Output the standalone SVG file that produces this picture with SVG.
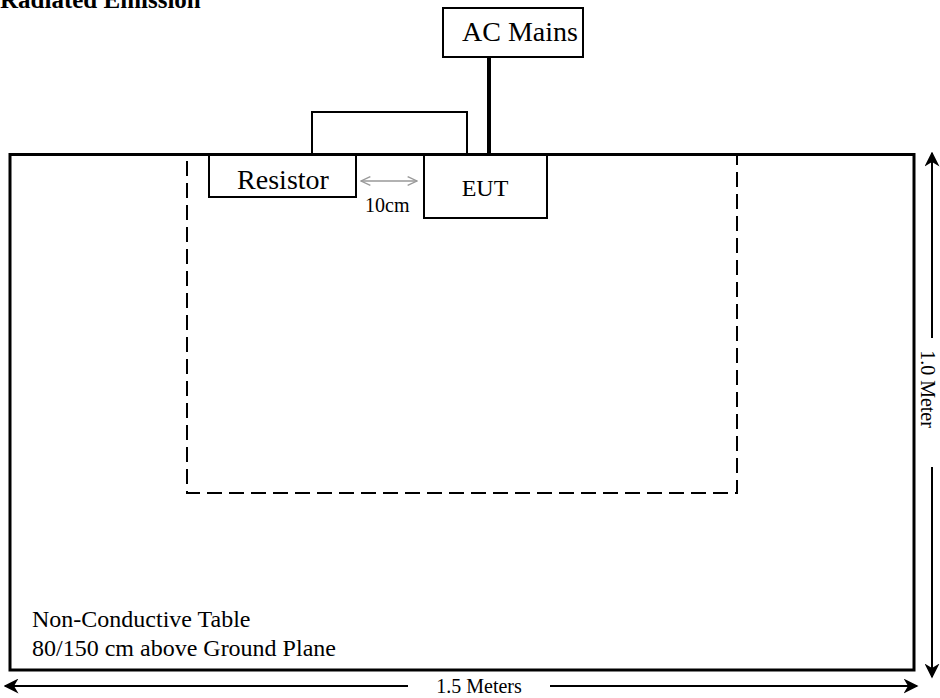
<svg xmlns="http://www.w3.org/2000/svg" width="940" height="698" viewBox="0 0 940 698">
<defs>
<style>
.t{font-family:"Liberation Serif","Times New Roman",serif;fill:#000}
.box{fill:#fff;stroke:#000;stroke-width:2}
.ln{fill:none;stroke:#000;stroke-width:2}
.dim{fill:none;stroke:#000;stroke-width:2}
</style>
<marker id="barb" viewBox="0 0 20 20" refX="18" refY="10" markerWidth="15" markerHeight="15" orient="auto" markerUnits="userSpaceOnUse">
<path d="M0,0 L20,10 L0,20 L6,10 Z" fill="#000"/>
</marker>
<marker id="gray" viewBox="0 0 20 20" refX="19" refY="10" markerWidth="11" markerHeight="11" orient="auto-start-reverse" markerUnits="userSpaceOnUse">
<path d="M2,2 L19,10 L2,18" fill="none" stroke="#999" stroke-width="2.5"/>
</marker>
</defs>
<rect width="940" height="698" fill="#fff"/>
<text class="t" x="0" y="8" font-size="25" font-weight="bold">Radiated Emission</text>
<g id="table">
<rect x="10" y="154.5" width="904" height="515.5" fill="#fff" stroke="#000" stroke-width="3"/>
<path d="M187,155 V493 H737 V155" fill="none" stroke="#000" stroke-width="2" stroke-dasharray="15 7" stroke-dashoffset="16"/>
<text class="t" x="32" y="627" font-size="24">Non-Conductive Table</text>
<text class="t" x="32" y="656" font-size="24">80/150 cm above Ground Plane</text>
</g>
<g id="connectors">
<path class="ln" d="M312,154 V112 H467 V154"/>
<line x1="489" y1="57" x2="489" y2="154" stroke="#000" stroke-width="4"/>
<line x1="361" y1="181" x2="417" y2="181" stroke="#999" stroke-width="1.5" marker-start="url(#gray)" marker-end="url(#gray)"/>
</g>
<g id="ac-mains">
<rect class="box" x="443" y="8" width="140" height="49"/>
<text class="t" x="520" y="41" font-size="28" text-anchor="middle">AC Mains</text>
</g>
<g id="resistor">
<rect class="box" x="209" y="155" width="147" height="42"/>
<text class="t" x="283" y="189" font-size="28" text-anchor="middle">Resistor</text>
</g>
<g id="eut">
<rect class="box" x="424" y="155" width="123" height="63"/>
<text class="t" x="485" y="196" font-size="24" text-anchor="middle">EUT</text>
</g>
<text class="t" x="365" y="212" font-size="20">10cm</text>
<g id="dim-height">
<line class="dim" x1="932" y1="338" x2="932" y2="153" marker-end="url(#barb)"/>
<line class="dim" x1="932" y1="467" x2="932" y2="677" marker-end="url(#barb)"/>
<text class="t" x="0" y="0" font-size="20" text-anchor="middle" transform="translate(921,389) rotate(90)">1.0 Meter</text>
</g>
<g id="dim-width">
<line class="dim" x1="408" y1="686" x2="5" y2="686" marker-end="url(#barb)"/>
<line class="dim" x1="550" y1="686" x2="917" y2="686" marker-end="url(#barb)"/>
<text class="t" x="479" y="693" font-size="20" text-anchor="middle">1.5 Meters</text>
</g>
</svg>
